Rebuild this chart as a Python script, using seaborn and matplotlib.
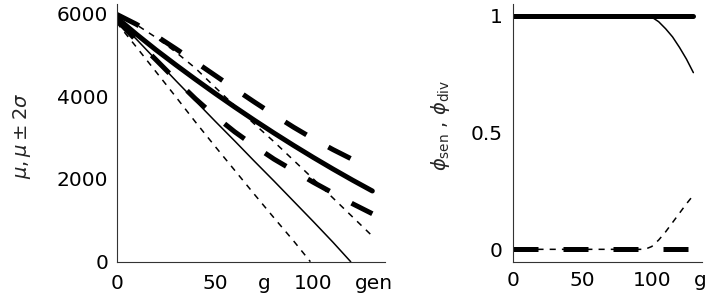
import numpy as np
import pandas as pd
import matplotlib
matplotlib.use("Agg")
import matplotlib.pyplot as plt
import seaborn as sns

# ---- data ----
gen = [0, 10, 20, 30, 40, 50, 60, 70, 80, 90, 100, 110, 120, 130]

# model A (thick lines): mean and mean +/- 2 sigma
mean_a = [5900, 5500, 5120, 4760, 4410, 4070, 3740, 3420, 3110, 2810, 2520, 2240, 1970, 1710]
upper_a = [5980, 5740, 5460, 5150, 4830, 4505, 4180, 3860, 3550, 3250, 2970, 2710, 2470, 2240]
lower_a = [5850, 5350, 4880, 4400, 3940, 3520, 3140, 2800, 2480, 2200, 1920, 1660, 1400, 1160]

# model B (thin lines), mean and lower band stop where they hit 0
upper_b = [5950, 5730, 5420, 5070, 4680, 4220, 3770, 3330, 2900, 2450, 2000, 1540, 1080, 620]
gen_mean_b = [0, 10, 20, 30, 40, 50, 60, 70, 80, 90, 100, 110, 119]
mean_b = [5850, 5380, 4880, 4380, 3890, 3400, 2920, 2430, 1950, 1460, 970, 470, 0]
gen_lower_b = [0, 10, 20, 30, 40, 50, 60, 70, 80, 90, 98.5]
lower_b = [5780, 5190, 4590, 3990, 3380, 2790, 2210, 1630, 1060, 500, 0]

# fractions phi_sen / phi_div
gen_phi_flat = [0, 130]
phi_sen_a = [1, 1]
phi_div_a = [0, 0]
gen_phi = [0, 95, 100, 105, 110, 115, 120, 125, 130]
phi_sen_b = [1, 1, 0.995, 0.975, 0.945, 0.91, 0.865, 0.815, 0.757]
phi_div_b = [0, 0, 0.012, 0.04, 0.075, 0.115, 0.155, 0.195, 0.232]

sns.set_theme(style="white")
plt.rcParams['font.family'] = ['DejaVu Sans']
plt.rcParams['mathtext.fontset'] = 'dejavusans'
plt.rcParams['axes.edgecolor'] = '#333333'
plt.rcParams['axes.linewidth'] = 0.8

fig = plt.figure(figsize=(7.1, 2.99), dpi=100)
ax1 = fig.add_axes([116.7 / 710, 37.3 / 299, 268.4 / 710, 257.7 / 299])
ax2 = fig.add_axes([513 / 710, 37.3 / 299, 188.7 / 710, 257.7 / 299])

thick = 3.6
thin = 1.1
thick_dash = (0, (5, 5))
thin_dash = (0, (4, 4))


def line(ax, x, y, lw, ls):
    df = pd.DataFrame({'x': x, 'y': y})
    sns.lineplot(data=df, x='x', y='y', ax=ax, color='black', lw=lw,
                 linestyle=ls, estimator=None, sort=False, legend=False)


# left panel
line(ax1, gen, upper_a, thick, thick_dash)
line(ax1, gen, lower_a, thick, thick_dash)
line(ax1, gen, mean_a, thick, '-')
line(ax1, gen, upper_b, thin, thin_dash)
line(ax1, gen_lower_b, lower_b, thin, thin_dash)
line(ax1, gen_mean_b, mean_b, thin, '-')

# right panel
line(ax2, gen_phi_flat, phi_sen_a, thick, '-')
line(ax2, gen_phi_flat, phi_div_a, thick, thick_dash)
line(ax2, gen_phi, phi_sen_b, thin, '-')
line(ax2, gen_phi, phi_div_b, thin, thin_dash)

ax1.set_xlim(0, 136.5)
ax1.set_ylim(0, 6230)
ax2.set_xlim(0, 136)
ax2.set_ylim(-0.053, 1.051)

ax1.set_xticks([0, 50, 100], ['0', '50', '100'])
ax1.set_xticks([75, 131], ['g', 'gen'], minor=True)
ax1.set_yticks([0, 2000, 4000, 6000], ['0', '2000', '4000', '6000'])
ax2.set_xticks([0, 50, 100], ['0', '50', '100'])
ax2.set_xticks([135], ['g'], minor=True)
ax2.set_yticks([0, 0.5, 1], ['0', '0.5', '1'])

for ax in (ax1, ax2):
    sns.despine(ax=ax)
    ax.tick_params(which='major', direction='in', length=3, width=0.8,
                   labelsize=14.5, colors='#333333', labelcolor='black')
    ax.tick_params(which='minor', direction='in', length=0, labelsize=14.5,
                   labelcolor='black')
    ax.set_xlabel('')

ax1.tick_params(axis='x', which='both', pad=9)
ax1.tick_params(axis='y', pad=6)
ax2.tick_params(axis='x', which='both', pad=6.5)
ax2.tick_params(axis='y', pad=7.5)

ax1.set_ylabel(r'$\mu,\mu\pm2\sigma$', fontsize=14)
ax1.yaxis.set_label_coords(-0.312, 0.49)
ax2.set_ylabel(r'$\phi_{\mathrm{sen}}$ , $\phi_{\mathrm{div}}$', fontsize=14)
ax2.yaxis.set_label_coords(-0.323, 0.527)

fig.savefig('out.png', dpi=100)
